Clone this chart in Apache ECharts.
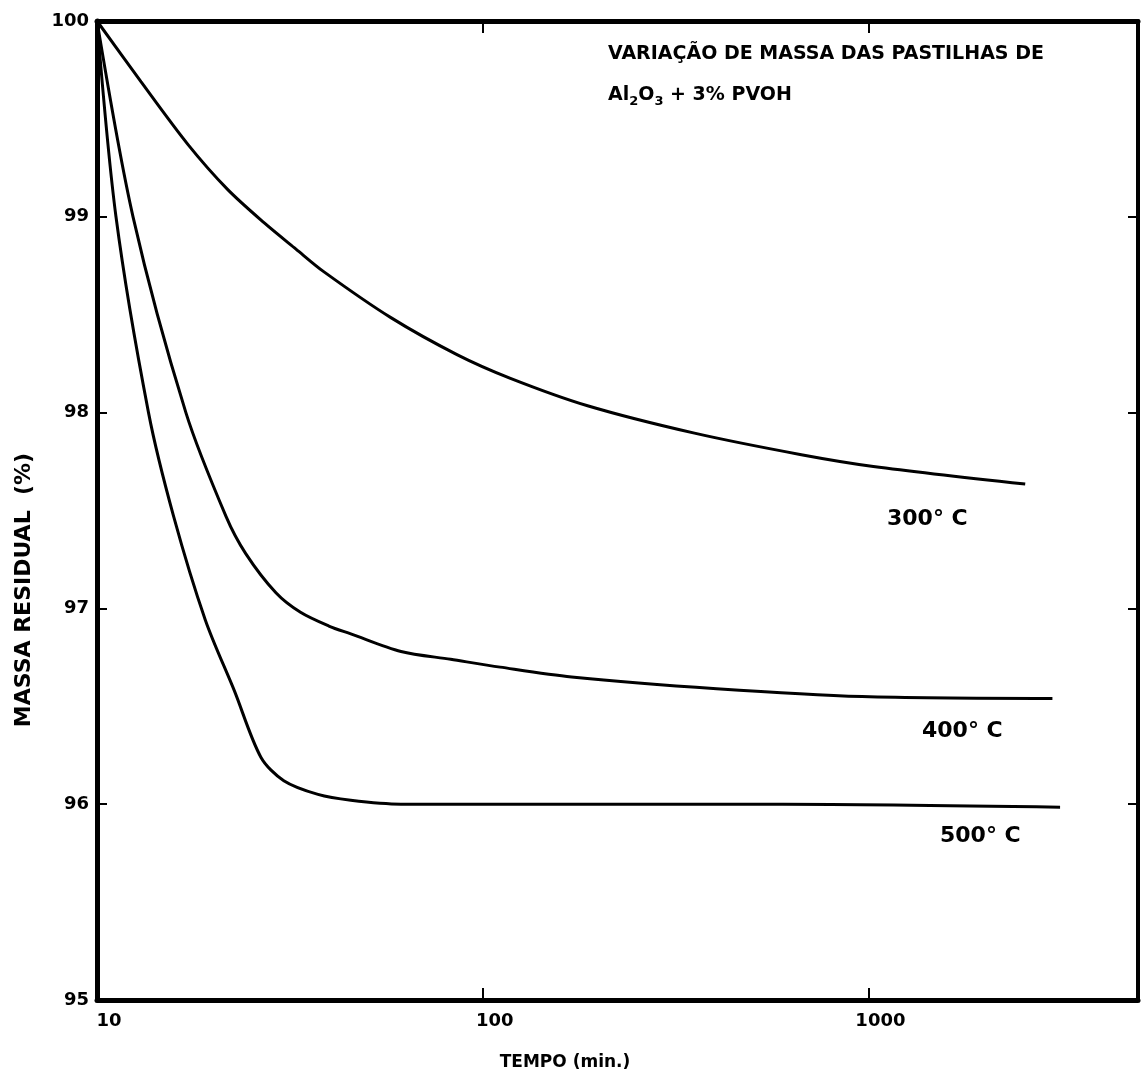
<!DOCTYPE html>
<html>
<head>
<meta charset="utf-8">
<script src="https://cdn.jsdelivr.net/npm/echarts@6/dist/echarts.min.js"></script>
<style>
  html, body { margin: 0; padding: 0; background: #fff; }
  #chart { width: 1147px; height: 1084px; }
</style>
</head>
<body>
<div id="chart"></div>
<script>
// ---- data ----
const yTicks = [95, 96, 97, 98, 99, 100];
const xTicks = [10, 100, 1000];

const t300 = [10, 13, 17.2, 21.8, 27.1, 32.8, 38.7, 57.8, 86, 118, 187, 354, 670, 1030, 2550];
const m300 = [100, 99.69, 99.37, 99.14, 98.97, 98.835, 98.72, 98.485, 98.295, 98.175, 98.035, 97.895, 97.785, 97.725, 97.635];

const t400 = [10, 12.4, 17.0, 21.6, 24.3, 29.1, 33.7, 39.9, 45.5, 61.4, 82.6, 111, 170, 404, 963, 3000];
const m400 = [100, 99.0, 98.0, 97.47, 97.28, 97.08, 96.98, 96.91, 96.87, 96.78, 96.74, 96.70, 96.65, 96.59, 96.55, 96.54];

const t500 = [10, 11.2, 13.6, 15.8, 19.1, 22.7, 26.6, 30.5, 37.4, 45.5, 61.4, 150, 600, 3140];
const m500 = [100, 99.0, 98.0, 97.47, 96.94, 96.58, 96.24, 96.12, 96.05, 96.02, 96.0, 96.0, 96.0, 95.985];

const seriesLabels = ['300° C', '400° C', '500° C'];
const titleLine1 = 'VARIAÇÃO DE MASSA DAS PASTILHAS DE';
const xName = 'TEMPO (min.)';
const yName = 'MASSA RESIDUAL  (%)';

function zip(a, b) { return a.map((v, i) => [v, b[i]]); }

const FONT = 'DejaVu Sans';
const chart = echarts.init(document.getElementById('chart'), null, { renderer: 'canvas' });

const lineStyle = { color: '#000', width: 3 };
function mkSeries(name, t, m) {
  return {
    name, type: 'line', data: zip(t, m), showSymbol: false, symbol: 'none',
    smooth: 0.3, lineStyle, xAxisIndex: 0, yAxisIndex: 0, silent: true
  };
}

const axisText = { color: '#000', fontFamily: FONT, fontWeight: 'bold', fontSize: 18 };

chart.setOption({
  animation: false,
  backgroundColor: '#fff',
  grid: { left: 97, right: 9, top: 21, bottom: 84, containLabel: false },
  xAxis: [
    {
      type: 'log', logBase: 10, min: 10, max: 5000, position: 'bottom',
      axisLine: { lineStyle: { color: '#000', width: 5 } },
      axisTick: { inside: true, length: 12, lineStyle: { color: '#000', width: 2 } },
      minorTick: { show: false },
      splitLine: { show: false },
      axisLabel: Object.assign({ margin: 12, showMaxLabel: false, padding: [0, 0, 0, 24],
        formatter: v => (xTicks.includes(Math.round(v)) ? String(Math.round(v)) : '') }, axisText)
    },
    {
      type: 'log', logBase: 10, min: 10, max: 5000, position: 'top',
      axisLine: { lineStyle: { color: '#000', width: 5 } },
      axisTick: { inside: true, length: 12, lineStyle: { color: '#000', width: 2 } },
      splitLine: { show: false }, axisLabel: { show: false }
    }
  ],
  yAxis: [
    {
      type: 'value', min: 95, max: 100, interval: 1, position: 'left',
      axisLine: { show: true, lineStyle: { color: '#000', width: 5 } },
      axisTick: { show: true, inside: true, length: 10, lineStyle: { color: '#000', width: 2 } },
      splitLine: { show: false },
      axisLabel: Object.assign({ margin: 8,
        formatter: v => (yTicks.includes(v) ? String(v) : '') }, axisText)
    },
    {
      type: 'value', min: 95, max: 100, interval: 1, position: 'right',
      axisLine: { show: true, lineStyle: { color: '#000', width: 4 } },
      axisTick: { show: true, inside: true, length: 10, lineStyle: { color: '#000', width: 2 } },
      splitLine: { show: false }, axisLabel: { show: false }
    }
  ],
  series: [
    mkSeries(seriesLabels[0], t300, m300),
    mkSeries(seriesLabels[1], t400, m400),
    mkSeries(seriesLabels[2], t500, m500)
  ],
  graphic: [
    { type: 'text', left: 608, top: 45, style: { text: titleLine1, fill: '#000', font: 'bold 19px "DejaVu Sans"' } },
    { type: 'text', left: 608, top: 86, style: {
        text: '{a|Al}{s|2}{a|O}{s|3}{a| + 3% PVOH}',
        rich: {
          a: { fill: '#000', fontFamily: FONT, fontWeight: 'bold', fontSize: 19 },
          s: { fill: '#000', fontFamily: FONT, fontWeight: 'bold', fontSize: 13, verticalAlign: 'bottom', padding: [12, 0, 0, 0] }
        } } },
    { type: 'text', left: 887, top: 508, style: { text: seriesLabels[0], fill: '#000', font: 'bold 22px "DejaVu Sans"' } },
    { type: 'text', left: 922, top: 720, style: { text: seriesLabels[1], fill: '#000', font: 'bold 22px "DejaVu Sans"' } },
    { type: 'text', left: 940, top: 825, style: { text: seriesLabels[2], fill: '#000', font: 'bold 22px "DejaVu Sans"' } },
    { type: 'text', x: 565, y: 1063, style: { text: xName, fill: '#000', font: 'bold 17px "DejaVu Sans"', align: 'center', verticalAlign: 'middle' } },
    { type: 'text', x: 24, y: 590, rotation: Math.PI / 2, style: { text: yName, fill: '#000', font: 'bold 22px "DejaVu Sans"', align: 'center', verticalAlign: 'middle' } }
  ]
});
</script>
</body>
</html>
